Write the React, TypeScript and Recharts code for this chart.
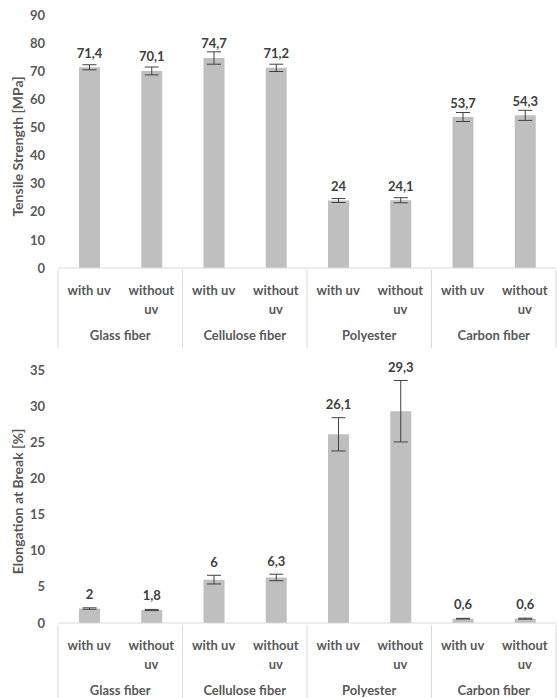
import React from 'react';
import { BarChart, Bar, XAxis, YAxis, ErrorBar, LabelList } from 'recharts';

const subLabels = ['with uv', 'without\nuv', 'with uv', 'without\nuv', 'with uv', 'without\nuv', 'with uv', 'without\nuv'];
const groups = ['Glass fiber', 'Cellulose fiber', 'Polyester', 'Carbon fiber'];

const tensile = [71.4, 70.1, 74.7, 71.2, 24, 24.1, 53.7, 54.3];
const tensileErr = [0.9, 1.4, 2.2, 1.3, 0.7, 0.9, 1.6, 1.8];
const tensileTicks = [0, 10, 20, 30, 40, 50, 60, 70, 80, 90];

const elongation = [2, 1.8, 6, 6.3, 26.1, 29.3, 0.6, 0.6];
const elongationErr = [0.1, 0.08, 0.6, 0.45, 2.3, 4.25, 0.05, 0.07];
const elongationTicks = [0, 5, 10, 15, 20, 25, 30, 35];

const FONT = 'Lato, "Open Sans", sans-serif';
const GRAY = '#595959';
const DARK = '#404040';
const LINE = '#d9d9d9';

const fmt = (v: number) => String(v).replace('.', ',');

const SubTick = (props: any) => {
  const { x, y, payload } = props;
  const i = Number(payload.value);
  const half = payload.offset || 31;
  const lines = subLabels[i].split('\n');
  const last = subLabels.length - 1;
  return (
    <g>
      {lines.map((l, k) => (
        <text key={k} x={x} y={y + 24.5} dy={k * 19} textAnchor="middle" fill={GRAY}
          fontFamily={FONT} fontSize={13} fontWeight={700}>{l}</text>
      ))}
      {i % 2 === 0 && <line x1={x - half} x2={x - half} y1={y} y2={y + 78} stroke={LINE} />}
      {i === last && <line x1={x + half} x2={x + half} y1={y} y2={y + 78} stroke={LINE} />}
      {i % 2 === 1 && (
        <text x={x - half} y={y + 69.5} textAnchor="middle" fill={GRAY}
          fontFamily={FONT} fontSize={13} fontWeight={700}>{groups[(i - 1) / 2]}</text>
      )}
    </g>
  );
};

interface FiberChartProps {
  values: number[];
  errors: number[];
  ticks: number[];
  title: string;
  marginTop: number;
  axisHeight: number;
  labelGap: number;
}

const FiberChart: React.FC<FiberChartProps> = ({ values, errors, ticks, title, marginTop, axisHeight, labelGap }) => {
  const data = values.map((v, i) => ({ id: String(i), value: v, err: errors[i] }));

  // value labels sit above the bar, pushed up when the error bar is tall
  const renderLabel = (p: any) => {
    const x = Number(p.x), y = Number(p.y), w = Number(p.width), h = Number(p.height);
    const value = Number(p.value);
    const idx = p.index ?? values.indexOf(value);
    const ppu = h / value;
    const errTop = y - errors[idx] * ppu;
    const cy = Math.min(y - 14, errTop - labelGap);
    return (
      <text x={x + w / 2} y={cy + 4.5} textAnchor="middle" fill={DARK}
        fontFamily={FONT} fontSize={13} fontWeight={700}>{fmt(value)}</text>
    );
  };

  const renderTitle = (p: any) => {
    const vb = p.viewBox;
    const cx = vb.x + 17;
    const cy = vb.y + vb.height / 2 + 5;
    return (
      <text x={cx} y={cy} transform={`rotate(-90, ${cx}, ${cy})`} textAnchor="middle"
        dominantBaseline="central" fill={GRAY} fontFamily={FONT} fontSize={14} fontWeight={700}>{title}</text>
    );
  };

  return (
    <BarChart width={557} height={349} data={data}
      margin={{ top: marginTop, right: 1, left: 0, bottom: 0 }}>
      <XAxis dataKey="id" interval={0} height={axisHeight} tickLine={false} tickSize={0}
        axisLine={{ stroke: LINE }} tick={<SubTick />} />
      <YAxis width={58} domain={[0, ticks[ticks.length - 1]]} ticks={ticks} interval={0}
        axisLine={false} tickLine={false} tickSize={0} tickMargin={13}
        tick={{ fill: GRAY, fontFamily: FONT, fontSize: 13, fontWeight: 700 }}
        label={{ value: title, content: renderTitle }} />
      <Bar dataKey="value" fill="#bfbfbf" barSize={21} isAnimationActive={false}>
        <ErrorBar dataKey="err" width={7} stroke={DARK} strokeWidth={1} />
        <LabelList dataKey="value" content={renderLabel} />
      </Bar>
    </BarChart>
  );
};

export default function App() {
  return (
    <div style={{ position: 'absolute', left: 0, top: 0, width: 557, height: 698, overflow: 'hidden', background: '#fff' }}>
      <FiberChart values={tensile} errors={tensileErr} ticks={tensileTicks}
        title="Tensile Strength [MPa]" marginTop={15} axisHeight={81} labelGap={8} />
      <FiberChart values={elongation} errors={elongationErr} ticks={elongationTicks}
        title="Elongation at Break [%]" marginTop={21} axisHeight={75} labelGap={13} />
    </div>
  );
}
